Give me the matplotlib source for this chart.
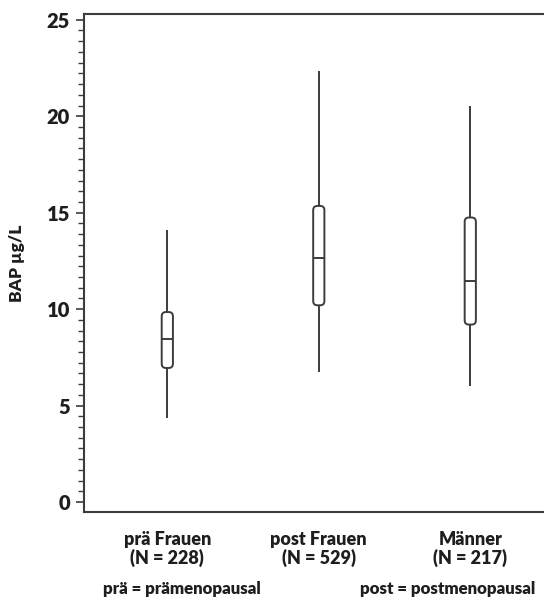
import matplotlib
matplotlib.use("Agg")
import matplotlib.pyplot as plt
from matplotlib.patches import FancyBboxPatch
from matplotlib.ticker import MultipleLocator

categories = ["prä Frauen\n(N = 228)", "post Frauen\n(N = 529)", "Männer\n(N = 217)"]
whisker_low = [4.35, 6.75, 6.0]
q1 = [6.95, 10.2, 9.2]
median = [8.45, 12.65, 11.45]
q3 = [9.85, 15.35, 14.75]
whisker_high = [14.1, 22.35, 20.55]
y_ticks = [0, 5, 10, 15, 20, 25]
y_label = "BAP µg/L"
note_left = "prä = prämenopausal"
note_right = "post = postmenopausal"

plt.rcParams['font.family'] = ['Lato', 'DejaVu Sans']
text_col = "#1e1e1e"
line_col = "#3c3c3c"
W = 'heavy'

fig = plt.figure(figsize=(5.44, 6.05), dpi=100)
ax = fig.add_axes([0.1544, 0.1542, 0.8493, 0.8227])
ax.set_xlim(0.45, 3.5)
ax.set_ylim(-0.5, 25.3)

positions = [1, 2, 3]
bw = 0.074
fig.canvas.draw()
p0 = ax.transData.transform((0, 0))
p1 = ax.transData.transform((1, 1))
aspect = (p1[0] - p0[0]) / (p1[1] - p0[1])
for x, lo, a, m, b, hi in zip(positions, whisker_low, q1, median, q3, whisker_high):
    ax.vlines(x, lo, a, color=line_col, lw=1.4, zorder=2)
    ax.vlines(x, b, hi, color=line_col, lw=1.4, zorder=2)
    box = FancyBboxPatch((x - bw / 2, a), bw, b - a,
                         boxstyle="round,pad=0,rounding_size=0.028",
                         mutation_aspect=aspect,
                         facecolor="white", edgecolor=line_col, lw=1.4, zorder=3)
    ax.add_patch(box)
    ax.hlines(m, x - bw / 2, x + bw / 2, color=line_col, lw=1.4, zorder=4)

ax.set_yticks(y_ticks)
ax.yaxis.set_minor_locator(MultipleLocator(5 / 9))
ax.set_yticklabels([str(t) for t in y_ticks], fontsize=14.5, fontweight=W, color=text_col)
ax.tick_params(axis='y', which='major', length=6, width=1.2, color=line_col, pad=4)
ax.tick_params(axis='y', which='minor', length=4, width=1.0, color=line_col)
ax.set_xticks(positions)
ax.set_xticklabels(categories, fontsize=13, fontweight=W, color=text_col, linespacing=1.05)
ax.tick_params(axis='x', which='both', length=0, pad=14)

for s in ['left', 'bottom', 'top', 'right']:
    ax.spines[s].set_color(line_col)
    ax.spines[s].set_linewidth(1.5)

ax.set_ylabel(y_label, fontsize=12.5, fontweight=W, color=text_col, labelpad=16)

fig.text(103 / 544, 1 - 589 / 605, note_left, fontsize=12.2, fontweight=W, color=text_col,
         ha='left', va='center')
fig.text(535 / 544, 1 - 589 / 605, note_right, fontsize=12.2, fontweight=W, color=text_col,
         ha='right', va='center')

fig.savefig("out.png", dpi=100)
